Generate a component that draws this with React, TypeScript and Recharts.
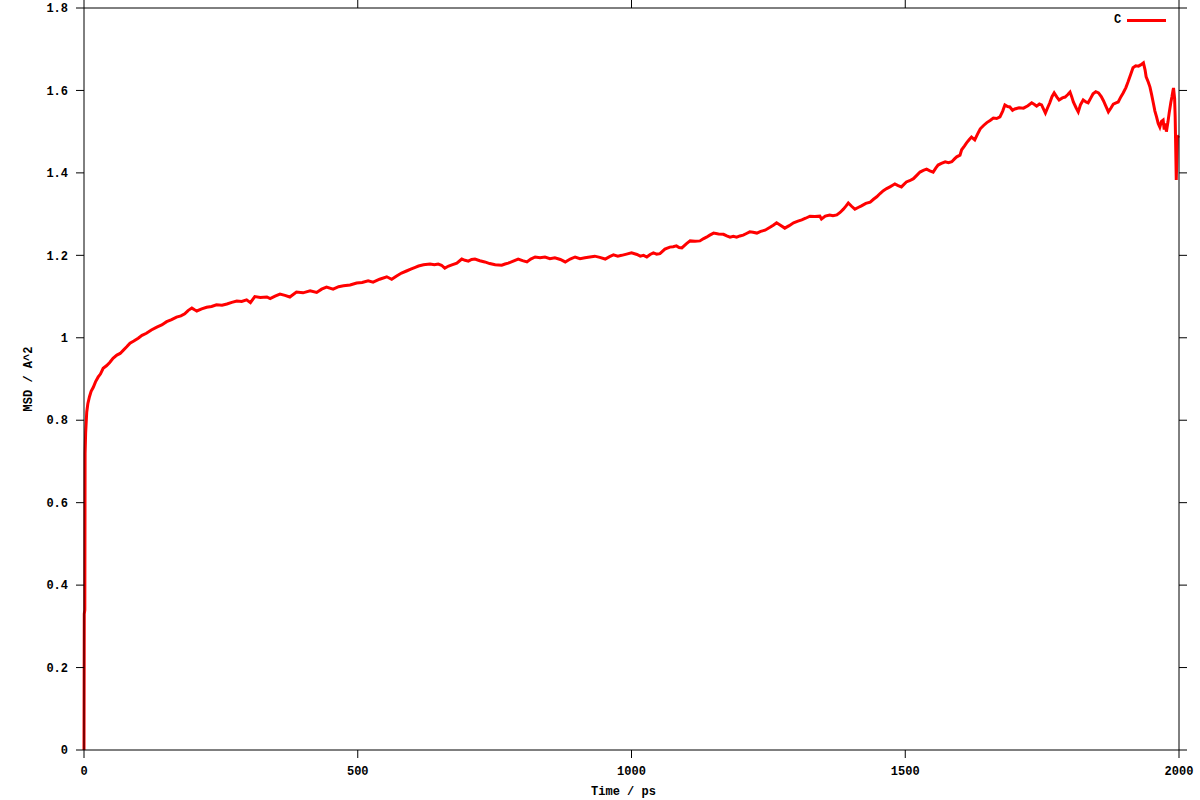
import React from 'react';
import { LineChart, Line, XAxis, YAxis } from 'recharts';

// time (ps) and MSD (A^2)
const times = [
  0, 0.5, 1.5, 2, 3, 5, 7, 10, 13, 17, 21, 26, 30, 35, 41, 47, 53, 60, 66, 72, 78, 84, 91, 99,
  106, 114, 123, 133, 142, 151, 160, 169, 177, 184, 190, 197, 202, 206, 215, 224, 233, 242, 252,
  261, 270, 279, 288, 297, 304, 312, 322, 334, 340, 349, 358, 367, 376, 388, 400, 413, 425, 434,
  443, 455, 465, 474, 486, 498, 508, 519, 528, 540, 553, 562, 571, 580, 589, 598, 605, 611, 620,
  632, 640, 647, 653, 659, 666, 672, 681, 690, 696, 702, 708, 714, 723, 732, 741, 751, 763, 769,
  775, 784, 793, 801, 809, 816, 824, 833, 842, 851, 860, 870, 879, 888, 897, 906, 915, 924, 933,
  942, 952, 960, 967, 975, 982, 991, 1000, 1010, 1016, 1022, 1028, 1034, 1040, 1046, 1052, 1061,
  1070, 1076, 1082, 1087, 1092, 1100, 1107, 1116, 1125, 1131, 1137, 1143, 1150, 1159, 1168, 1174,
  1180, 1186, 1192, 1198, 1204, 1210, 1216, 1222, 1229, 1236, 1244, 1253, 1259, 1265, 1272, 1280,
  1288, 1296, 1304, 1311, 1318, 1326, 1335, 1344, 1347, 1354, 1362, 1368, 1375, 1381, 1387, 1392,
  1396, 1402, 1408, 1414, 1420, 1428, 1436, 1442, 1448, 1454, 1460, 1466, 1472, 1477, 1481, 1487,
  1493, 1502, 1508, 1515, 1521, 1527, 1533, 1539, 1545, 1551, 1556, 1560, 1566, 1573, 1579, 1585,
  1590, 1594, 1600, 1603, 1608, 1612, 1617, 1621, 1627, 1632, 1637, 1643, 1649, 1655, 1661, 1667,
  1673, 1678, 1682, 1687, 1691, 1696, 1700, 1708, 1716, 1724, 1731, 1736, 1740, 1745, 1749, 1756,
  1760, 1764, 1768, 1772, 1777, 1781, 1787, 1792, 1797, 1801, 1804, 1807, 1812, 1816, 1820, 1825,
  1830, 1834, 1839, 1843, 1848, 1853, 1858, 1862, 1867, 1871, 1876, 1880, 1885, 1889, 1894, 1898,
  1903, 1907, 1912, 1916, 1921, 1926, 1930, 1935, 1938, 1940, 1944, 1947, 1950, 1953, 1956, 1959,
  1962, 1965, 1968, 1971, 1973, 1975, 1977, 1980, 1982, 1985, 1987, 1989, 1990, 1992, 1993, 1995,
  1997, 2000,
];

const msd = [
  0, 0.33, 0.34, 0.72, 0.77, 0.82, 0.84, 0.857, 0.87, 0.88, 0.893, 0.905, 0.912, 0.926, 0.932,
  0.94, 0.95, 0.958, 0.962, 0.97, 0.978, 0.987, 0.992, 0.999, 1.006, 1.011, 1.019, 1.026, 1.031,
  1.039, 1.044, 1.05, 1.053, 1.058, 1.066, 1.072, 1.068, 1.065, 1.07, 1.074, 1.076, 1.08, 1.079,
  1.082, 1.086, 1.089, 1.088, 1.092, 1.085, 1.1, 1.098, 1.099, 1.095, 1.101, 1.106, 1.103, 1.099,
  1.111, 1.109, 1.114, 1.11, 1.118, 1.123, 1.118, 1.124, 1.126, 1.128, 1.133, 1.134, 1.138, 1.135,
  1.142, 1.148, 1.142, 1.15, 1.157, 1.162, 1.167, 1.171, 1.174, 1.177, 1.179, 1.177, 1.179, 1.176,
  1.169, 1.174, 1.177, 1.181, 1.191, 1.188, 1.186, 1.19, 1.191, 1.187, 1.184, 1.18, 1.177, 1.176,
  1.179, 1.181, 1.186, 1.191, 1.187, 1.184, 1.191, 1.196, 1.194, 1.196, 1.192, 1.194, 1.19, 1.184,
  1.191, 1.196, 1.192, 1.194, 1.196, 1.198, 1.195, 1.191, 1.197, 1.201, 1.198, 1.2, 1.203, 1.206,
  1.202, 1.198, 1.2, 1.196, 1.202, 1.206, 1.203, 1.204, 1.215, 1.22, 1.221, 1.223, 1.219, 1.218,
  1.228, 1.235, 1.234, 1.235, 1.24, 1.244, 1.249, 1.254, 1.252, 1.251, 1.247, 1.244, 1.246, 1.244,
  1.247, 1.249, 1.253, 1.257, 1.256, 1.254, 1.258, 1.261, 1.268, 1.273, 1.279, 1.273, 1.266, 1.272,
  1.279, 1.283, 1.286, 1.29, 1.295, 1.294, 1.295, 1.288, 1.295, 1.298, 1.296, 1.298, 1.304, 1.312,
  1.32, 1.327, 1.319, 1.312, 1.316, 1.32, 1.326, 1.329, 1.336, 1.342, 1.35, 1.357, 1.362, 1.366,
  1.37, 1.373, 1.369, 1.366, 1.378, 1.381, 1.386, 1.394, 1.402, 1.406, 1.409, 1.405, 1.402, 1.412,
  1.419, 1.423, 1.427, 1.425, 1.427, 1.434, 1.439, 1.443, 1.456, 1.465, 1.473, 1.481, 1.487, 1.48,
  1.494, 1.507, 1.515, 1.522, 1.527, 1.533, 1.532, 1.536, 1.55, 1.565, 1.561, 1.56, 1.552, 1.555,
  1.558, 1.557, 1.563, 1.57, 1.566, 1.562, 1.567, 1.565, 1.545, 1.558, 1.57, 1.585, 1.594, 1.584,
  1.577, 1.582, 1.584, 1.59, 1.596, 1.585, 1.572, 1.558, 1.548, 1.565, 1.577, 1.572, 1.57, 1.582,
  1.592, 1.597, 1.594, 1.585, 1.575, 1.56, 1.548, 1.558, 1.567, 1.57, 1.572, 1.585, 1.594, 1.607,
  1.621, 1.64, 1.655, 1.66, 1.659, 1.662, 1.667, 1.65, 1.633, 1.62, 1.608, 1.59, 1.57, 1.55, 1.536,
  1.52, 1.511, 1.525, 1.528, 1.505, 1.52, 1.5, 1.525, 1.545, 1.57, 1.584, 1.6, 1.606, 1.58, 1.536,
  1.383, 1.487, 1.49,
];

const xTicks = [0, 500, 1000, 1500, 2000];
const yTicks = [0, 0.2, 0.4, 0.6, 0.8, 1, 1.2, 1.4, 1.6, 1.8];

const data = times.map((t, i) => ({ t, C: msd[i] }));

const tickFont = {
  fill: '#000',
  fontFamily: '"Liberation Mono", "DejaVu Sans Mono", monospace',
  fontWeight: 'bold',
  fontSize: 12,
};

// mirrored border ticks carry no labels
const NoLabel = () => <g />;

const XLabel = ({ viewBox }: any) => (
  <text
    x={viewBox.x + viewBox.width / 2 - 8}
    y={viewBox.y + 45}
    textAnchor="middle"
    {...tickFont}
  >
    Time / ps
  </text>
);

const YLabel = ({ viewBox }: any) => {
  const x = viewBox.x + 24;
  const y = viewBox.y + viewBox.height / 2;
  return (
    <text x={x} y={y} textAnchor="middle" transform={`rotate(-90 ${x} ${y})`} {...tickFont}>
      MSD / A^2
    </text>
  );
};

export default function App() {
  return (
    <div style={{ position: 'absolute', left: 0, top: 0, width: 1200, height: 800, background: '#fff' }}>
      <LineChart width={1200} height={800} data={data} margin={{ top: 0, right: 13, bottom: 0, left: 8 }}>
        <XAxis
          dataKey="t"
          type="number"
          domain={[0, 2000]}
          ticks={xTicks}
          height={50}
          tickSize={8}
          tickMargin={8}
          stroke="#000"
          tick={tickFont}
          label={<XLabel />}
        />
        <XAxis
          xAxisId="top"
          dataKey="t"
          type="number"
          orientation="top"
          domain={[0, 2000]}
          ticks={xTicks}
          height={8}
          tickSize={8}
          stroke="#000"
          tick={<NoLabel />}
        />
        <YAxis
          type="number"
          domain={[0, 1.8]}
          ticks={yTicks}
          width={76}
          tickSize={8}
          tickMargin={8}
          stroke="#000"
          tick={tickFont}
          label={<YLabel />}
        />
        <YAxis
          yAxisId="right"
          type="number"
          orientation="right"
          domain={[0, 1.8]}
          ticks={yTicks}
          width={8}
          tickSize={8}
          stroke="#000"
          tick={<NoLabel />}
        />
        {/* invisible series so the mirrored border axes get drawn */}
        <Line
          xAxisId="top"
          yAxisId="right"
          type="linear"
          dataKey="C"
          stroke="none"
          dot={false}
          legendType="none"
          isAnimationActive={false}
        />
        <Line
          type="linear"
          dataKey="C"
          stroke="#ff0000"
          strokeWidth={3}
          dot={false}
          isAnimationActive={false}
        />
      </LineChart>
      <div
        style={{
          position: 'absolute',
          top: 13,
          left: 1114,
          display: 'flex',
          alignItems: 'center',
          fontFamily: tickFont.fontFamily,
          fontWeight: 'bold',
          fontSize: 12,
          color: '#000',
        }}
      >
        <span>C</span>
        <span style={{ display: 'inline-block', width: 39, height: 3, background: '#ff0000', marginLeft: 6 }} />
      </div>
    </div>
  );
}
